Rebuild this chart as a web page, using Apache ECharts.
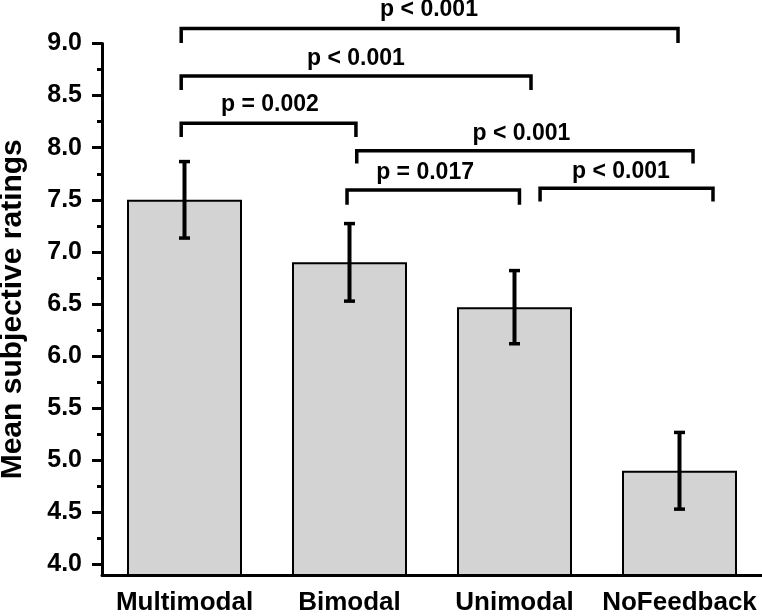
<!DOCTYPE html>
<html>
<head>
<meta charset="utf-8">
<script src="https://cdn.jsdelivr.net/npm/echarts@6/dist/echarts.min.js"></script>
<style>
html,body{margin:0;padding:0;background:#fff;}
#chart{width:762px;height:616px;}
</style>
</head>
<body>
<div id="chart"></div>
<script>
// ---- data ----
var categories = ['Multimodal', 'Bimodal', 'Unimodal', 'NoFeedback'];
var means = [7.50, 6.90, 6.47, 4.90];
var errors = [0.367, 0.372, 0.351, 0.368];
var yTickValues = [4.0, 4.5, 5.0, 5.5, 6.0, 6.5, 7.0, 7.5, 8.0, 8.5, 9.0];
var yMinorTickValues = [4.25, 4.75, 5.25, 5.75, 6.25, 6.75, 7.25, 7.75, 8.25, 8.75];
var yTickLabels = ['4.0', '4.5', '5.0', '5.5', '6.0', '6.5', '7.0', '7.5', '8.0', '8.5', '9.0'];
// significance brackets: category positions (index units) and rating levels
var bracketLabels = ['p < 0.001', 'p < 0.001', 'p = 0.002', 'p < 0.001', 'p = 0.017', 'p < 0.001'];
var bracketFrom = [-0.02, -0.02, -0.02, 1.044, 0.985, 2.155];
var bracketTo = [2.991, 2.10, 1.039, 3.082, 2.03, 3.203];
var bracketLevel = [9.144, 8.688, 8.235, 7.972, 7.595, 7.612];
var bracketLegEnd = [9.005, 8.554, 8.104, 7.849, 7.452, 7.483];
var bracketTextX = [1.482, 1.039, 0.518, 2.042, 1.458, 2.645];
var bracketTextY = [9.321, 8.856, 8.410, 8.137, 7.763, 7.768];

var FONT = '"Liberation Sans", Arial, sans-serif';

var errData = categories.map(function (c, i) {
  return [i, means[i] - errors[i], means[i] + errors[i]];
});
var bracketData = bracketLabels.map(function (l, i) {
  return [bracketFrom[i], bracketTo[i], bracketLevel[i], bracketLegEnd[i], bracketTextX[i], bracketTextY[i], i];
});

var chart = echarts.init(document.getElementById('chart'), null, {renderer: 'canvas'});
chart.setOption({
  animation: false,
  backgroundColor: '#ffffff',
  grid: {left: 102, right: 0, top: 43.5, bottom: 41, containLabel: false, outerBoundsMode: 'none'},
  xAxis: [{
    type: 'category',
    data: categories,
    boundaryGap: true,
    axisLine: {onZero: false, lineStyle: {color: '#000', width: 3}},
    axisTick: {alignWithLabel: true, length: 8, lineStyle: {color: '#000', width: 3}},
    axisLabel: {interval: 0, hideOverlap: false, color: '#000', fontFamily: FONT, fontWeight: 'bold', fontSize: 26, margin: 15},
    splitLine: {show: false}
  }, {
    type: 'value', min: -0.5, max: 3.5, show: false,
    axisLine: {onZero: false}
  }],
  yAxis: [{
    type: 'value',
    min: 3.9, max: 9.0,
    position: 'left',
    name: 'Mean subjective ratings',
    nameLocation: 'middle',
    nameGap: 74,
    nameTextStyle: {color: '#000', fontFamily: FONT, fontWeight: 'bold', fontSize: 30},
    axisLine: {show: true, onZero: false, lineStyle: {color: '#000', width: 3}},
    axisTick: {show: true, customValues: yTickValues, length: 10, lineStyle: {color: '#000', width: 3}},
    axisLabel: {
      customValues: yTickValues,
      formatter: function (v) {
        var k = yTickValues.indexOf(Math.round(v * 100) / 100);
        return k >= 0 ? yTickLabels[k] : '';
      },
      color: '#000', fontFamily: FONT, fontWeight: 'bold', fontSize: 25, margin: 20
    },
    splitLine: {show: false}
  }, {
    type: 'value',
    min: 3.9, max: 9.0,
    position: 'left',
    axisLine: {show: false, onZero: false},
    axisTick: {show: true, customValues: yMinorTickValues, length: 5, lineStyle: {color: '#000', width: 3}},
    axisLabel: {show: false},
    splitLine: {show: false}
  }],
  series: [{
    type: 'bar',
    data: means,
    barWidth: 115,
    itemStyle: {color: '#d3d3d3', borderColor: '#000', borderWidth: 2},
    z: 2
  }, {
    type: 'custom',
    data: errData,
    z: 3,
    renderItem: function (params, api) {
      var lo = api.coord([api.value(0), api.value(1)]);
      var hi = api.coord([api.value(0), api.value(2)]);
      var cw = 5.5;
      return {
        type: 'group',
        children: [
          {type: 'line', shape: {x1: hi[0], y1: hi[1], x2: lo[0], y2: lo[1]}, style: {stroke: '#000', lineWidth: 4}},
          {type: 'line', shape: {x1: hi[0] - cw, y1: hi[1], x2: hi[0] + cw, y2: hi[1]}, style: {stroke: '#000', lineWidth: 3.5}},
          {type: 'line', shape: {x1: lo[0] - cw, y1: lo[1], x2: lo[0] + cw, y2: lo[1]}, style: {stroke: '#000', lineWidth: 3.5}}
        ]
      };
    }
  }, {
    type: 'custom',
    xAxisIndex: 1,
    yAxisIndex: 0,
    data: bracketData,
    clip: false,
    z: 4,
    renderItem: function (params, api) {
      var a = api.coord([api.value(0), api.value(2)]);
      var b = api.coord([api.value(1), api.value(2)]);
      var legY = api.coord([api.value(0), api.value(3)])[1];
      var t = api.coord([api.value(4), api.value(5)]);
      var idx = api.value(6);
      return {
        type: 'group',
        children: [
          {type: 'polyline', shape: {points: [[a[0], legY], [a[0], a[1]], [b[0], b[1]], [b[0], legY]]},
            style: {stroke: '#000', lineWidth: 3.5, fill: null, lineJoin: 'miter'}},
          {type: 'text', x: t[0], y: t[1], style: {text: bracketLabels[idx], fill: '#000',
            font: 'bold 23px ' + FONT, align: 'center', verticalAlign: 'middle'}}
        ]
      };
    }
  }]
});
</script>
</body>
</html>
